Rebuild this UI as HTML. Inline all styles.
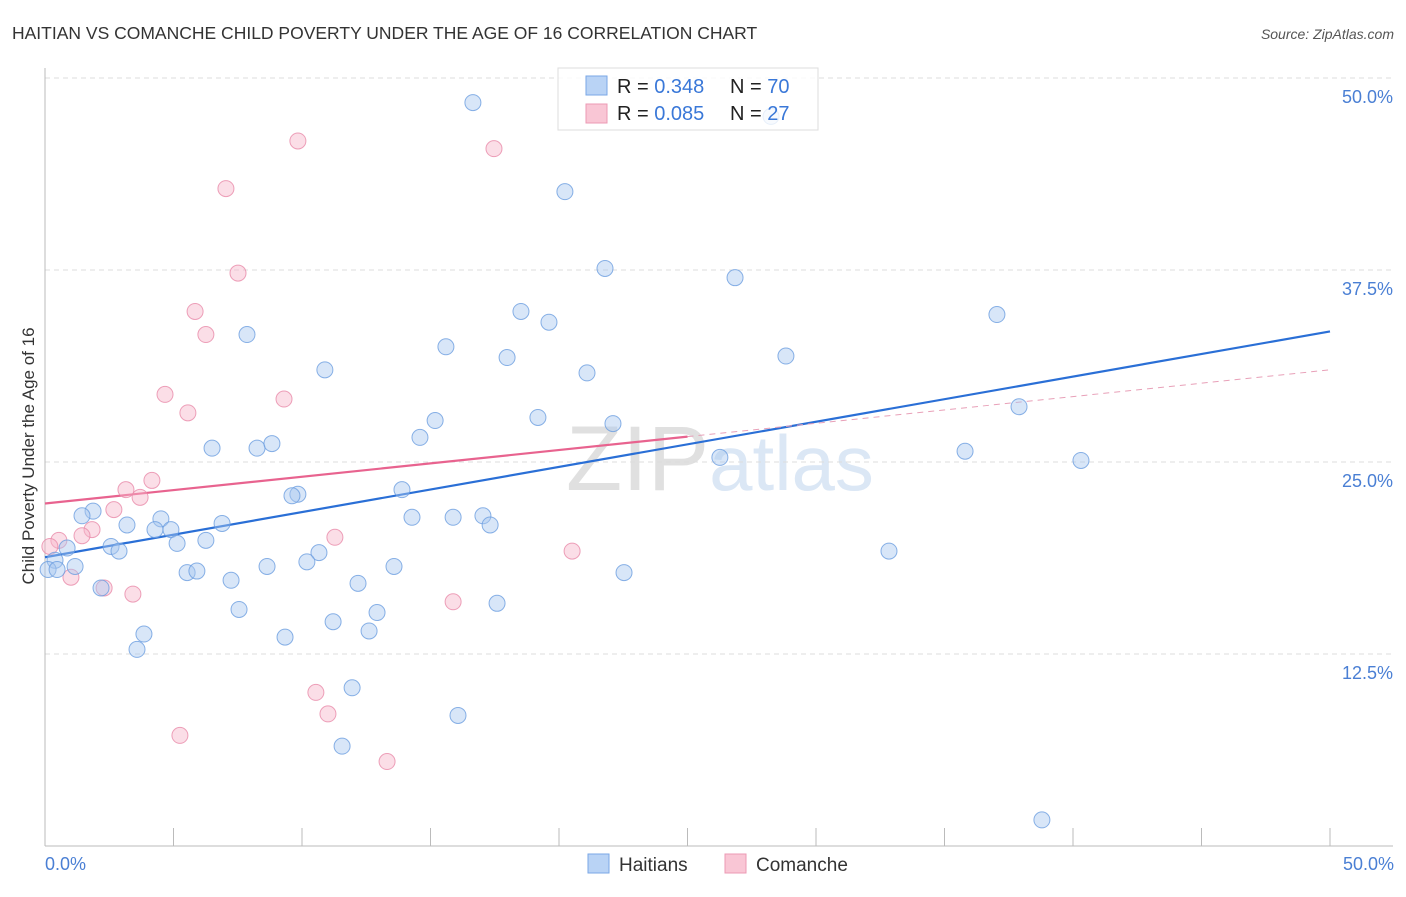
<!DOCTYPE html>
<html><head><meta charset="utf-8"><style>
body{margin:0;background:#fff;font-family:"Liberation Sans",sans-serif;}
svg text{font-family:"Liberation Sans",sans-serif;}
</style></head><body>
<svg id="chart" width="1406" height="892" viewBox="0 0 1406 892">
<text x="12" y="39" font-size="17.5" fill="#333">HAITIAN VS COMANCHE CHILD POVERTY UNDER THE AGE OF 16 CORRELATION CHART</text>
<text x="1394" y="39" font-size="14" fill="#555" font-style="italic" text-anchor="end">Source: ZipAtlas.com</text>
<text x="720" y="490" font-size="92" fill="#e4e4e4" text-anchor="middle" font-family="Liberation Serif"><tspan fill="#e0e0e0">ZIP</tspan><tspan fill="#dbe7f5" font-family="Liberation Sans" font-size="78">atlas</tspan></text>
<g id="grid"></g>
<g id="axes"></g>
<g id="trends"></g>
<g id="points"></g>
<text transform="translate(34,456) rotate(-90)" font-size="17" fill="#333" text-anchor="middle">Child Poverty Under the Age of 16</text>
<text x="45" y="870" font-size="18" fill="#4a7fd4">0.0%</text>
<text x="1394" y="870" font-size="18" fill="#4a7fd4" text-anchor="end">50.0%</text>
<g id="legendg">
<rect x="558" y="68" width="260" height="62" fill="#fff" fill-opacity="0.8" stroke="#ddd"/>
<rect x="586" y="76" width="21" height="19" fill="#b9d3f5" stroke="#7aa7e6"/>
<rect x="586" y="104" width="21" height="19" fill="#f9c6d5" stroke="#ec9ab4"/>
<text x="617" y="93" font-size="20" fill="#222">R = <tspan fill="#3a78d8">0.348</tspan><tspan x="730">N = </tspan><tspan fill="#3a78d8">70</tspan></text>
<text x="617" y="120" font-size="20" fill="#222">R = <tspan fill="#3a78d8">0.085</tspan><tspan x="730">N = </tspan><tspan fill="#3a78d8">27</tspan></text>
</g>
<g>
<rect x="588" y="854" width="21" height="19" fill="#b9d3f5" stroke="#7aa7e6"/>
<text x="619" y="871" font-size="19" fill="#333">Haitians</text>
<rect x="725" y="854" width="21" height="19" fill="#f9c6d5" stroke="#ec9ab4"/>
<text x="756" y="871" font-size="19" fill="#333">Comanche</text>
</g>
</svg>
<script>
const yTicks=[12.5,25,37.5,50];
const yTickLabels=["12.5%","25.0%","37.5%","50.0%"];
const xTicks=[0,5,10,15,20,25,30,35,40,45,50];
const haitiansX=[16.65,20.23,21.79,26.85,37.04,18.52,19.61,7.86,15.60,17.98,28.83,10.89,21.09,37.90,19.18,15.18,22.10,14.59,6.50,8.25,8.83,26.26,35.80,40.31,13.89,9.84,9.61,1.87,1.44,14.28,15.88,17.04,17.32,4.51,3.19,4.28,4.90,6.89,6.26,5.14,0.86,2.57,2.88,10.66,10.19,8.64,13.58,0.39,1.17,0.12,0.47,5.53,5.91,22.53,32.84,7.24,12.18,2.18,7.55,12.92,17.59,11.21,12.61,3.85,9.34,3.58,11.95,16.07,11.56,38.79,28.25];
const haitiansY=[48.4,42.6,37.6,37.0,34.6,34.8,34.1,33.3,32.5,31.8,31.9,31.0,30.8,28.6,27.9,27.7,27.5,26.6,25.9,25.9,26.2,25.3,25.7,25.1,23.2,22.9,22.8,21.8,21.5,21.4,21.4,21.5,20.9,21.3,20.9,20.6,20.6,21.0,19.9,19.7,19.4,19.5,19.2,19.1,18.5,18.2,18.2,18.6,18.2,18.0,18.0,17.8,17.9,17.8,19.2,17.3,17.1,16.8,15.4,15.2,15.8,14.6,14.0,13.8,13.6,12.8,10.3,8.5,6.5,1.7,47.5];
const comancheX=[9.84,17.47,7.04,7.51,5.84,6.26,4.67,5.56,9.30,4.16,3.15,3.70,2.68,1.83,1.44,0.54,0.19,11.28,20.51,1.01,2.30,3.42,15.88,10.54,11.01,5.25,13.31];
const comancheY=[45.9,45.4,42.8,37.3,34.8,33.3,29.4,28.2,29.1,23.8,23.2,22.7,21.9,20.6,20.2,19.9,19.5,20.1,19.2,17.5,16.8,16.4,15.9,10.0,8.6,7.2,5.5];
const haitiansTrend=[18.8,33.5];
const comancheTrend=[22.3,31.0];
const X0=45,X1=1330,Y0=846,PPY=15.36;
const sx=v=>X0+(X1-X0)*v/50;
const sy=v=>Y0-v*PPY;
const NS="http://www.w3.org/2000/svg";
function mk(tag,attrs,parent){const e=document.createElementNS(NS,tag);for(const k in attrs)e.setAttribute(k,attrs[k]);document.getElementById(parent).appendChild(e);return e;}
yTicks.forEach((t,i)=>{
const g=mk('line',{x1:45,x2:1393,y1:sy(t),y2:sy(t),stroke:'#ddd','stroke-dasharray':'5,4'},'grid');


const l=mk('text',{x:1393,y:sy(t)+25,'font-size':18,fill:'#4a7fd4','text-anchor':'end'},'grid');
l.textContent=yTickLabels[i];


});
const ax=mk('line',{x1:45,x2:1393,y1:Y0,y2:Y0,stroke:'#bbb'},'axes');


const ay=mk('line',{x1:45,x2:45,y1:68,y2:Y0,stroke:'#bbb'},'axes');


xTicks.forEach(t=>{
const k=mk('line',{x1:sx(t),x2:sx(t),y1:828,y2:Y0,stroke:'#bbb'},'axes');


});
function dot(x,y,fill,stroke,name){
const c=mk('circle',{cx:sx(x),cy:sy(y),r:8,fill:fill,'fill-opacity':0.45,stroke:stroke,'stroke-width':1,'stroke-opacity':0.8},'points');


}
comancheX.forEach((x,i)=>dot(x,comancheY[i],'#f7b6ca','#e88aa9','comanche-point'));
haitiansX.forEach((x,i)=>dot(x,haitiansY[i],'#a9c8f0','#6c9de0','haitians-point'));
const bt=mk('line',{x1:sx(0),y1:sy(haitiansTrend[0]),x2:sx(50),y2:sy(haitiansTrend[1]),stroke:'#2a6fd6','stroke-width':2.2},'trends');


const pm=comancheTrend[0]+(comancheTrend[1]-comancheTrend[0])*0.5;
const ps=mk('line',{x1:sx(0),y1:sy(comancheTrend[0]),x2:sx(25),y2:sy(pm),stroke:'#e8638f','stroke-width':2.2},'trends');


const pd=mk('line',{x1:sx(25),y1:sy(pm),x2:sx(50),y2:sy(comancheTrend[1]),stroke:'#e8a0b8','stroke-width':1,'stroke-dasharray':'6,5'},'trends');


document.getElementById('chart').appendChild(document.getElementById('legendg'));
</script>
</body></html>
